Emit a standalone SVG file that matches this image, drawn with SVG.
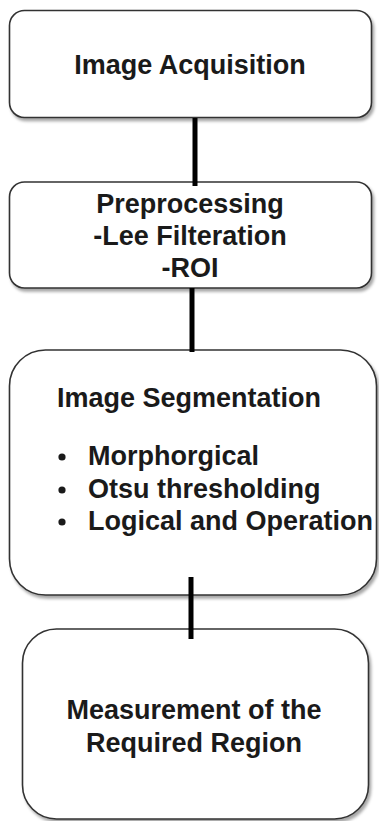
<svg xmlns="http://www.w3.org/2000/svg" width="379" height="821" viewBox="0 0 379 821">
<style>
.box{fill:#fff;stroke:#333;stroke-width:1.6;filter:url(#sh)}
.t{font-family:"Liberation Sans",Arial,sans-serif;font-weight:bold;font-size:27px;fill:#1a1a1a}
.c{text-anchor:middle}
.conn{stroke:#000;stroke-width:5;fill:none}
</style>
<defs>
<filter id="sh" x="-10%" y="-10%" width="125%" height="125%">
<feDropShadow dx="2" dy="3" stdDeviation="1.5" flood-color="#000" flood-opacity="0.35"/>
</filter>
</defs>
<rect width="379" height="821" fill="#fff"/>
<g id="n1"><rect class="box" x="9.5" y="10.5" width="362" height="107" rx="15"/>
<text class="t c" x="190" y="74">Image Acquisition</text></g>
<g id="n2"><rect class="box" x="9.5" y="182" width="362" height="106" rx="15"/>
<text class="t c" x="190" y="213">Preprocessing</text>
<text class="t c" x="190" y="245">-Lee Filteration</text>
<text class="t c" x="190" y="277">-ROI</text></g>
<g id="n3"><rect class="box" x="9.5" y="350" width="367" height="245" rx="36"/>
<text class="t c" x="189" y="407">Image Segmentation</text>
<circle cx="62" cy="457" r="3.6" fill="#1a1a1a"/>
<circle cx="62" cy="490" r="3.6" fill="#1a1a1a"/>
<circle cx="62" cy="522" r="3.6" fill="#1a1a1a"/>
<text class="t" x="88" y="465">Morphorgical</text>
<text class="t" x="88" y="498">Otsu thresholding</text>
<text class="t" x="88" y="530">Logical and Operation</text></g>
<g id="n4"><rect class="box" x="22.5" y="629" width="346" height="190" rx="34"/>
<text class="t c" x="194" y="719">Measurement of the</text>
<text class="t c" x="194" y="752">Required Region</text></g>
<g id="connectors">
<line class="conn" x1="195" y1="118" x2="195" y2="186"/>
<line class="conn" x1="192" y1="288" x2="192" y2="352"/>
<line class="conn" x1="191" y1="577" x2="191" y2="639"/>
</g>
</svg>
